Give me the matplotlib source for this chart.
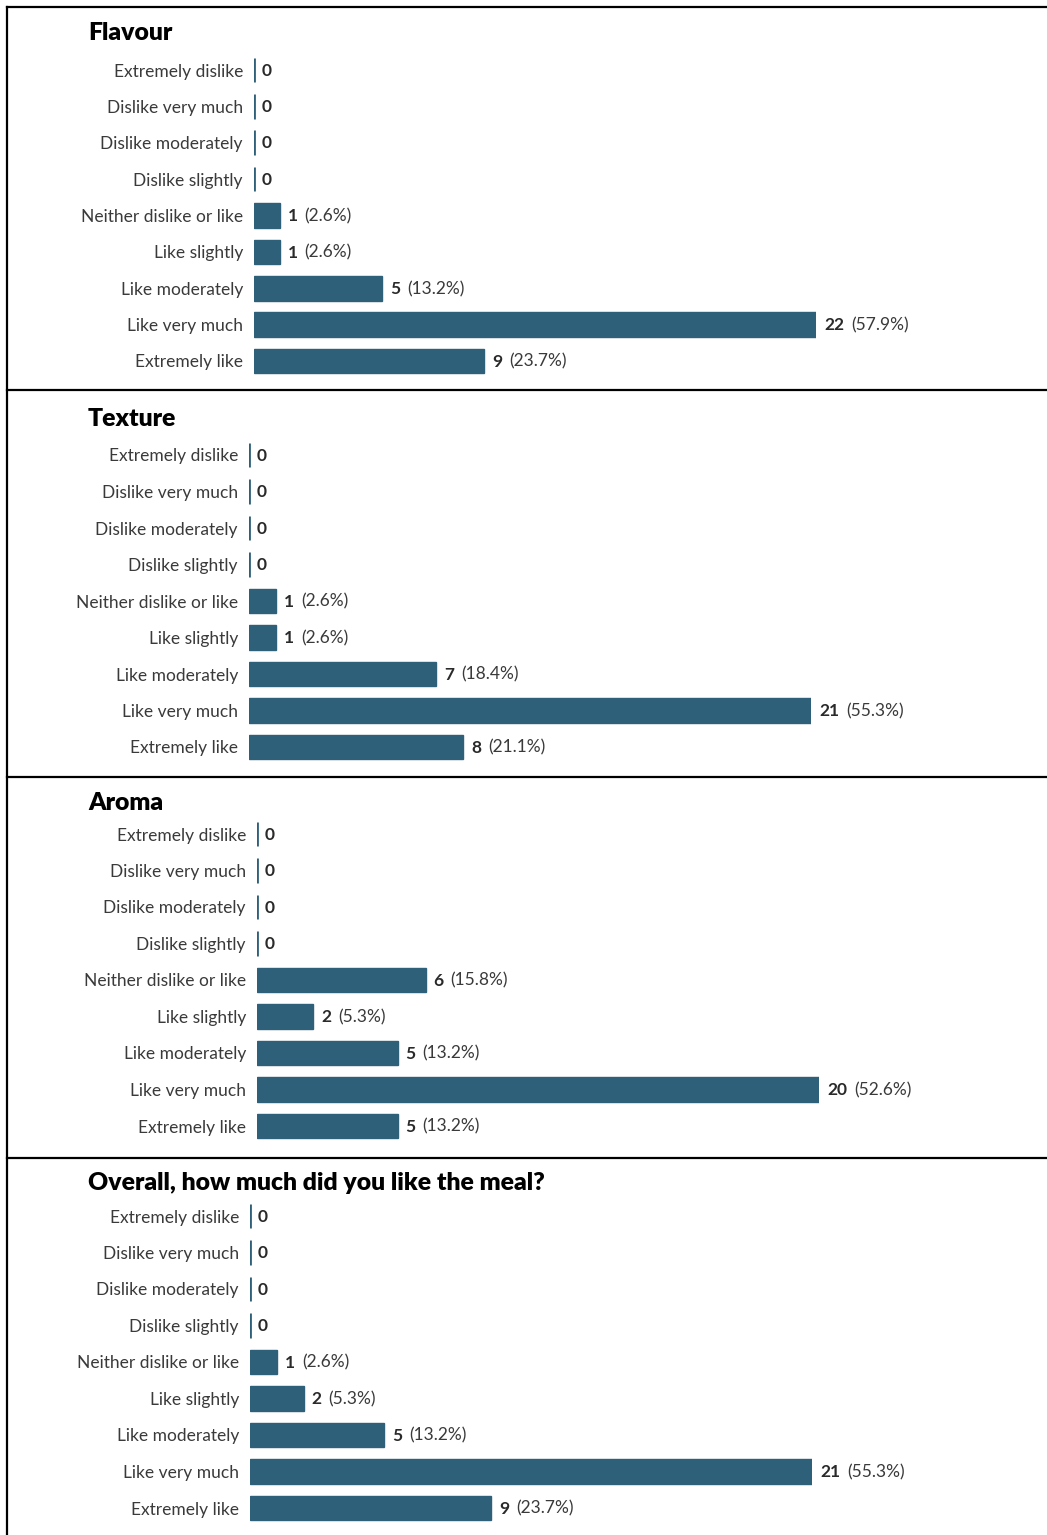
import matplotlib
matplotlib.use("Agg")
import matplotlib.pyplot as plt
from matplotlib.lines import Line2D

# Survey responses (counts out of 38 respondents)
categories = [
    "Extremely dislike", "Dislike very much", "Dislike moderately",
    "Dislike slightly", "Neither dislike or like", "Like slightly",
    "Like moderately", "Like very much", "Extremely like",
]
titles = ["Flavour", "Texture", "Aroma", "Overall, how much did you like the meal?"]
flavour = [0, 0, 0, 0, 1, 1, 5, 22, 9]
texture = [0, 0, 0, 0, 1, 1, 7, 21, 8]
aroma = [0, 0, 0, 0, 6, 2, 5, 20, 5]
overall = [0, 0, 0, 0, 1, 2, 5, 21, 9]
percents = [
    ["", "", "", "", "2.6%", "2.6%", "13.2%", "57.9%", "23.7%"],
    ["", "", "", "", "2.6%", "2.6%", "18.4%", "55.3%", "21.1%"],
    ["", "", "", "", "15.8%", "5.3%", "13.2%", "52.6%", "13.2%"],
    ["", "", "", "", "2.6%", "5.3%", "13.2%", "55.3%", "23.7%"],
]
series = [flavour, texture, aroma, overall]

W, H = 1047, 1535
DPI = 100
BAR = "#2e6079"
TXT = "#3a3a3a"

plt.rcParams["font.family"] = ["Lato", "DejaVu Sans"]

fig = plt.figure(figsize=(W / DPI, H / DPI), dpi=DPI)

# panel geometry in pixels: zero-line x, first row y, last row y, title y
zero_x = [254, 249, 257, 250]
row_first = [70, 455, 834, 1216]
row_last = [361, 747, 1126, 1508]
title_y = [33, 419, 803, 1183]
bar_span = 562  # pixel length of the longest bar

renderer = fig.canvas.get_renderer()

for i, (vals, pcts, title) in enumerate(zip(series, percents, titles)):
    step = (row_last[i] - row_first[i]) / 8
    top = row_first[i] - step / 2
    bottom = row_last[i] + step / 2
    ax = fig.add_axes([zero_x[i] / W, 1 - bottom / H, bar_span / W, (bottom - top) / H])
    ypos = list(range(len(categories)))
    widths = [2.0 if v == 0 else 1.0 for v in vals]
    ax.barh(ypos, vals, height=0.68, color=BAR, edgecolor=BAR, linewidth=widths)
    ax.set_xlim(0, max(vals))
    ax.set_ylim(len(categories) - 0.5, -0.5)
    ax.set_yticks(ypos)
    ax.set_yticklabels(categories, fontsize=12.5, color=TXT)
    ax.tick_params(axis="y", length=0, pad=8)
    ax.set_xticks([])
    for s in ax.spines.values():
        s.set_visible(False)
    ax.patch.set_alpha(0)

    for y, v, p in zip(ypos, vals, pcts):
        t = ax.annotate(str(v), xy=(v, y), xytext=(5.8, -0.5), textcoords="offset points",
                        ha="left", va="center", fontsize=12.5, fontweight="bold",
                        color="#2a2a2a", annotation_clip=False)
        if p:
            bb = t.get_window_extent(renderer=renderer)
            ax.annotate(f"({p})", xy=(v, y), xytext=(5.8 + bb.width * 72 / DPI + 5, -0.5),
                        textcoords="offset points", ha="left", va="center",
                        fontsize=12.5, color=TXT, annotation_clip=False)

    fig.text(88 / W, 1 - title_y[i] / H, title, fontsize=17.8, fontweight="heavy",
             color="black", ha="left", va="center")

# outer frame and panel separators
def hline(y, x0=7, x1=W):
    fig.add_artist(Line2D([x0 / W, x1 / W], [1 - y / H, 1 - y / H],
                          transform=fig.transFigure, color="black", linewidth=1.6))

for y in [7, 390, 777, 1158]:
    hline(y)
fig.add_artist(Line2D([7 / W, 7 / W], [1 - 7 / H, 0], transform=fig.transFigure,
                      color="black", linewidth=1.6))

fig.savefig("out.png", dpi=DPI)
